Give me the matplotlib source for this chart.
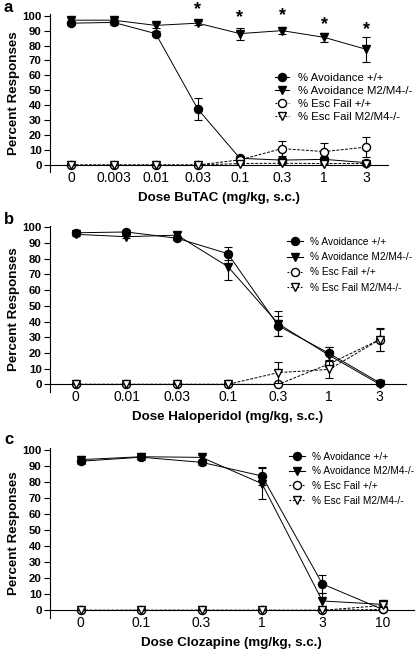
import numpy as np
import matplotlib.pyplot as plt
from matplotlib.lines import Line2D

plt.rcParams['font.family'] = ['Liberation Sans', 'DejaVu Sans']

# панель a: BuTAC
doses_a = ['0', '0.003', '0.01', '0.03', '0.1', '0.3', '1', '3']
avo_wt_a = [95, 95.5, 88, 37.5, 4.5, 3.3, 3.8, 1.6]
avo_wt_a_err = [1.5, 1.5, 1.5, 7.5, 1.5, 1.5, 1.5, 1]
avo_ko_a = [97, 97, 93.5, 95, 88, 90, 85.5, 77.5]
avo_ko_a_err = [1.5, 1.5, 1.5, 1.5, 4, 2.5, 3, 8.5]
esc_wt_a = [0, 0, 0, 0, 3.5, 11, 9, 12]
esc_wt_a_err = [0, 0, 0, 0, 1, 5, 5.5, 6.5]
esc_ko_a = [0, 0, 0, 0, 1, 1.2, 1, 1]
esc_ko_a_err = [0, 0, 0, 0, 0.5, 0.5, 0.5, 0.5]
star_y_a = [None, None, None, 104, 98.5, 100, 94, 91]

# панель b: Haloperidol
doses_b = ['0', '0.01', '0.03', '0.1', '0.3', '1', '3']
avo_wt_b = [96.5, 97, 93, 83.2, 37.2, 19.7, 1]
avo_wt_b_err = [1, 1, 1, 4, 6.5, 4, 0.5]
avo_ko_b = [95.5, 94, 95, 75, 38.5, 18.5, 0]
avo_ko_b_err = [1, 1, 2, 8.5, 8, 5, 0.5]
esc_wt_b = [0, 0, 0, 0, 0, 13, 28.5]
esc_wt_b_err = [0, 0, 0, 0, 0, 2, 7]
esc_ko_b = [0, 0, 0, 0, 7.5, 9.5, 28.5]
esc_ko_b_err = [0, 0, 0, 0, 6.5, 5.5, 7.5]

# панель c: Clozapine
doses_c = ['0', '0.1', '0.3', '1', '3', '10']
avo_wt_c = [93, 95.5, 92.3, 83.8, 16.4, 0.5]
avo_wt_c_err = [2, 1.5, 1.5, 5.5, 5.5, 0.5]
avo_ko_c = [94, 95.8, 95.4, 79, 5.8, 3.7]
avo_ko_c_err = [2, 1.5, 1.5, 9.5, 5, 1]
esc_wt_c = [0, 0, 0, 0, 0, 0.5]
esc_wt_c_err = [0, 0, 0, 0, 0, 0.3]
esc_ko_c = [0, 0, 0, 0, 0, 3]
esc_ko_c_err = [0, 0, 0, 0, 0, 1]

labels = ['% Avoidance +/+', '% Avoidance M2/M4-/-', '% Esc Fail +/+', '% Esc Fail M2/M4-/-']

W, H = 417, 653
fig = plt.figure(figsize=(W / 100, H / 100), dpi=100)


def make_ax(left, right, top, bottom):
    return fig.add_axes([left / W, 1 - bottom / H, (right - left) / W, (bottom - top) / H])


def panel(ax, doses, series, xlabel, letter, leg, stars=None):
    x = np.arange(len(doses))
    styles = [
        ('o', 'black', '-'),
        ('v', 'black', '-'),
        ('o', 'white', '--'),
        ('v', 'white', '--'),
    ]
    handles = []
    for i in [2, 3, 0, 1]:
        y, e = series[i]
        m, fc, ls = styles[i]
        ms = 5.8 if m == 'o' else 6
        ax.errorbar(x, y, yerr=e, marker=m, mfc=fc, mec='black', color='black',
                    ls=ls, lw=0.7, ms=ms, capsize=2.8, elinewidth=0.8, capthick=0.8,
                    clip_on=False, zorder=3 + i,
                    dashes=(3, 1.5) if ls == '--' else (None, None))
    for m, fc, ls in styles:
        h = Line2D([], [], marker=m, mfc=fc, mec='black', color='black', lw=0.8,
                   ms=5.8 if m == 'o' else 6, ls=ls)
        if ls == '--':
            h.set_dashes((1.5, 1.5))
        handles.append(h)
    ax.set_xlim(-0.51, len(doses) - 0.49)
    ax.set_ylim(-5, 101)
    ax.set_xticks(x)
    ax.set_xticklabels(doses, fontweight='bold', fontsize=8.2)
    ax.set_yticks(np.arange(0, 101, 10))
    ax.set_yticklabels([str(v) for v in range(0, 101, 10)], fontweight='bold', fontsize=8.2)
    ax.tick_params(axis='x', length=0, pad=4)
    ax.tick_params(axis='y', length=4, width=0.8, pad=2)
    ax.spines['top'].set_visible(False)
    ax.spines['right'].set_visible(False)
    ax.spines['bottom'].set_position(('data', 0))
    ax.spines['bottom'].set_linewidth(0.8)
    ax.spines['left'].set_linewidth(0.8)
    ax.set_xlabel(xlabel, fontweight='bold', fontsize=9.6, labelpad=5)
    ax.set_ylabel('Percent Responses', fontweight='bold', fontsize=9.6, labelpad=2)
    if stars:
        for xi, sy in zip(x, stars):
            if sy is not None:
                ax.text(xi, sy, '*', ha='center', va='center', fontsize=13,
                        fontweight='bold', clip_on=False)
    lx, ly, fs, sp, hl, hp = leg
    ax.legend(handles, labels, loc='upper left',
              bbox_to_anchor=(lx / W, 1 - ly / H),
              bbox_transform=fig.transFigure,
              frameon=False, fontsize=fs, handlelength=hl, handletextpad=hp,
              labelspacing=sp, borderpad=0, borderaxespad=0)
    fig.text(letter[1] / W, 1 - letter[2] / H, letter[0], fontweight='bold',
             fontsize=12, ha='left', va='center')


ax_a = make_ax(50, 387.7, 14.2, 172.5)
panel(ax_a, doses_a,
      [(avo_wt_a, avo_wt_a_err), (avo_ko_a, avo_ko_a_err),
       (esc_wt_a, esc_wt_a_err), (esc_ko_a, esc_ko_a_err)],
      'Dose BuTAC (mg/kg, s.c.)', ('a', 4, 8),
      (274.5, 73, 8.2, 0.27, 1.3, 0.75), stars=star_y_a)

ax_b = make_ax(50, 405.6, 225.7, 392.2)
panel(ax_b, doses_b,
      [(avo_wt_b, avo_wt_b_err), (avo_ko_b, avo_ko_b_err),
       (esc_wt_b, esc_wt_b_err), (esc_ko_b, esc_ko_b_err)],
      'Dose Haloperidol (mg/kg, s.c.)', ('b', 4, 219),
      (287.4, 236.7, 7.3, 0.53, 1.5, 0.73))

ax_c = make_ax(50, 413.6, 448.4, 618.3)
panel(ax_c, doses_c,
      [(avo_wt_c, avo_wt_c_err), (avo_ko_c, avo_ko_c_err),
       (esc_wt_c, esc_wt_c_err), (esc_ko_c, esc_ko_c_err)],
      'Dose Clozapine (mg/kg, s.c.)', ('c', 4, 440),
      (289.4, 451.7, 7.3, 0.46, 1.5, 0.73))

fig.savefig('out.png', dpi=100)
